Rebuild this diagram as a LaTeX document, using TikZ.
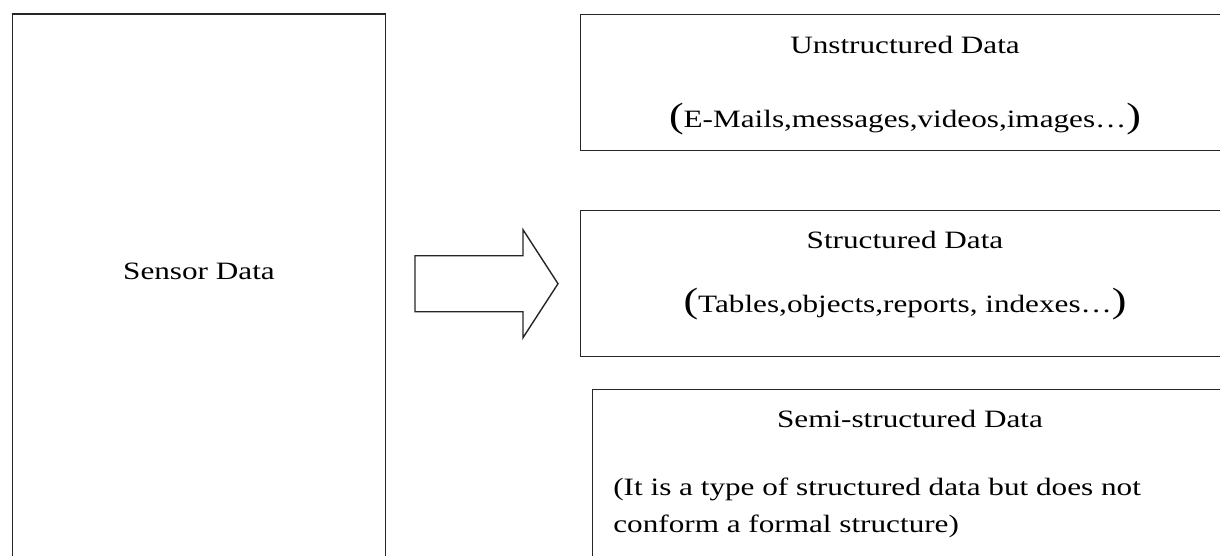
\documentclass[tikz,border=0pt]{standalone}
\usepackage{fontspec}
\setmainfont{Liberation Serif}[FakeStretch=1.25]
\usetikzlibrary{positioning,calc}
\newcommand{\bigparen}[1]{{\fontsize{20}{21}\selectfont #1}}

\begin{document}
\begin{tikzpicture}
	\useasboundingbox (0,0) rectangle (24.4,-11.12);
	\clip (0,0) rectangle (24.4,-11.12);
	\begin{scope}
		\tikzstyle{every node}=[inner sep=0pt, font=\fontsize{14.2}{21}\selectfont]
		\tikzstyle{box}=[draw=black!85, line width=0.8pt, anchor=north west]

		% outlines
		\node[box, minimum width=7.46cm, minimum height=12cm] (sensor) at (0.24, -0.27) {};
		\node[box, minimum width=13cm, minimum height=2.72cm] (unstr) at (11.6, -0.28) {};
		\node[box, minimum width=13cm, minimum height=2.92cm] (str) at (11.6, -4.2) {};
		\node[box, minimum width=12.8cm, minimum height=5cm] (semi) at (11.84, -7.78) {};

		% texts
		\node[anchor=base] (sensortxt) at (3.98, -5.58) {Sensor Data};
		\node[anchor=base] (unstrtitle) at (18.1, -1.08) {Unstructured Data};
		\node[anchor=base] (unstrsub) at (18.1, -2.56) {\bigparen{(}E-Mails,messages,videos,images…\bigparen{)}};
		\node[anchor=base] (strtitle) at (18.1, -4.96) {Structured Data};
		\node[anchor=base] (strsub) at (18.1, -6.24) {\bigparen{(}Tables,objects,reports, indexes…\bigparen{)}};
		\node[anchor=base] (semititle) at (18.2, -8.54) {Semi-structured Data};
		\node[anchor=north west, align=left] (semisub) at (12.26, -9.55)
			{(It is a type of structured data but does not\\conform a formal structure)};

		% block arrow
		\coordinate (tip) at ($(str.west)+(-0.44,0)$);
		\draw[black!85, line width=0.8pt] (tip) -- ++(-0.7,1.08) -- ++(0,-0.52) -- ++(-2.16,0)
			-- ++(0,-1.12) -- ++(2.16,0) -- ++(0,-0.52) -- cycle;
	\end{scope}
\end{tikzpicture}
\end{document}
